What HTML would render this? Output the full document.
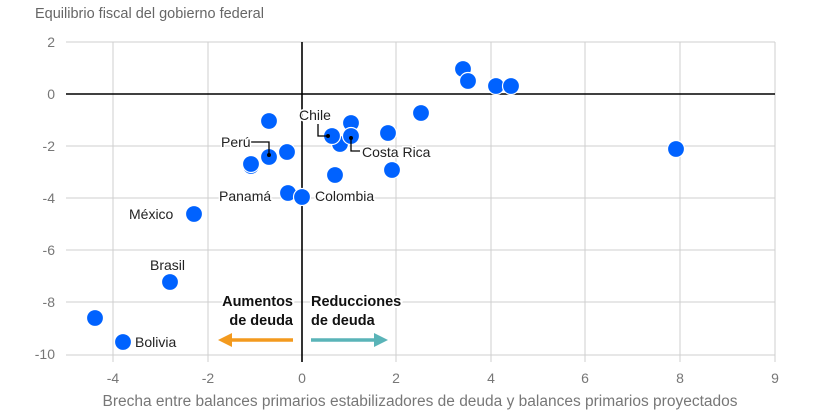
<!DOCTYPE html>
<html><head><meta charset="utf-8"><style>
html,body{margin:0;padding:0;background:#fff;}
svg{display:block;font-family:"Liberation Sans",sans-serif;}
</style></head><body>
<svg width="840" height="416" viewBox="0 0 840 416" xmlns="http://www.w3.org/2000/svg">
<text x="35" y="18" font-size="14.5" fill="#666">Equilibrio fiscal del gobierno federal</text>
<g stroke="#cfcfcf" stroke-width="1">
<line x1="66" y1="42" x2="775" y2="42"/>
<line x1="66" y1="146" x2="775" y2="146"/>
<line x1="66" y1="198" x2="775" y2="198"/>
<line x1="66" y1="250" x2="775" y2="250"/>
<line x1="66" y1="302" x2="775" y2="302"/>
<line x1="66" y1="355" x2="775" y2="355"/>
<line x1="113" y1="42" x2="113" y2="362"/>
<line x1="208" y1="42" x2="208" y2="362"/>
<line x1="396" y1="42" x2="396" y2="362"/>
<line x1="491" y1="42" x2="491" y2="362"/>
<line x1="585" y1="42" x2="585" y2="362"/>
<line x1="680" y1="42" x2="680" y2="362"/>
<line x1="775" y1="42" x2="775" y2="362"/>
</g>
<g stroke="#000" stroke-width="1.6">
<line x1="66" y1="94" x2="775" y2="94"/>
<line x1="302" y1="42" x2="302" y2="362"/>
</g>
<g font-size="14" fill="#777" text-anchor="end">
<text x="55" y="47">2</text><text x="55" y="99">0</text><text x="55" y="151">-2</text>
<text x="55" y="203">-4</text><text x="55" y="255">-6</text><text x="55" y="307">-8</text><text x="55" y="359">-10</text>
</g>
<g font-size="14" fill="#777" text-anchor="middle">
<text x="113" y="383">-4</text><text x="208" y="383">-2</text><text x="302" y="383">0</text>
<text x="396" y="383">2</text><text x="491" y="383">4</text><text x="585" y="383">6</text>
<text x="680" y="383">8</text><text x="775" y="383">9</text>
<text x="420" y="406" font-size="15.5">Brecha entre balances primarios estabilizadores de deuda y balances primarios proyectados</text>
</g>
<g fill="#0062ff" stroke="#fff" stroke-width="1.2">
<circle cx="95" cy="318" r="8.5"/><circle cx="123" cy="342" r="8.5"/>
<circle cx="170" cy="282" r="8.5"/><circle cx="194" cy="214" r="8.5"/>
<circle cx="269" cy="121" r="8.5"/><circle cx="251" cy="166" r="8.5"/><circle cx="251" cy="164" r="8.5"/>
<circle cx="269" cy="157" r="8.5"/><circle cx="287" cy="152" r="8.5"/>
<circle cx="288" cy="193" r="8.5"/><circle cx="302" cy="197" r="8.5"/>
<circle cx="351" cy="123" r="8.5"/><circle cx="340" cy="144" r="8.5"/>
<circle cx="332" cy="136" r="8.5"/><circle cx="351" cy="136" r="8.5"/>
<circle cx="335" cy="175" r="8.5"/><circle cx="388" cy="133" r="8.5"/>
<circle cx="392" cy="170" r="8.5"/><circle cx="421" cy="113" r="8.5"/>
<circle cx="463" cy="69" r="8.5"/><circle cx="468" cy="81" r="8.5"/>
<circle cx="496" cy="86" r="8.5"/><circle cx="511" cy="86" r="8.5"/>
<circle cx="676" cy="149" r="8.5"/>
</g>
<g stroke="#000" stroke-width="1.3" fill="none">
<polyline points="250,142 269,142 269,157"/>
<polyline points="318,124 318,136 328,136"/>
<polyline points="351,136 351,151 360,151"/>
</g>
<g fill="#000"><circle cx="269" cy="155" r="2"/><circle cx="328" cy="136" r="2"/><circle cx="351" cy="138" r="2"/></g>
<g font-size="14" fill="#222" stroke="#fff" stroke-width="3" paint-order="stroke">
<text x="221" y="147">Perú</text>
<text x="299" y="120">Chile</text>
<text x="362" y="157">Costa Rica</text>
<text x="219" y="201">Panamá</text>
<text x="315" y="201">Colombia</text>
<text x="129" y="219">México</text>
<text x="150" y="270">Brasil</text>
<text x="135" y="347">Bolivia</text>
</g>
<g font-size="14.5" font-weight="bold" fill="#111" stroke="#fff" stroke-width="4" paint-order="stroke">
<text x="293" y="306" text-anchor="end">Aumentos</text>
<text x="293" y="325" text-anchor="end">de deuda</text>
<text x="311" y="306">Reducciones</text>
<text x="311" y="325">de deuda</text>
</g>
<g stroke="#f39a1e" stroke-width="3.5" fill="#f39a1e">
<line x1="293" y1="340" x2="230" y2="340"/>
<polygon points="218,340 232,333 232,347" stroke="none"/>
</g>
<g stroke="#5ab4b8" stroke-width="3.5" fill="#5ab4b8">
<line x1="311" y1="340" x2="375" y2="340"/>
<polygon points="388,340 374,333 374,347" stroke="none"/>
</g>
</svg>
</body></html>
